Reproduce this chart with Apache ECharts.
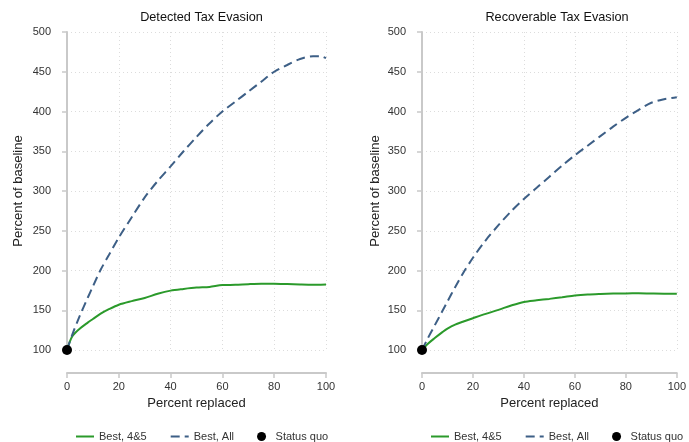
<!DOCTYPE html>
<html>
<head>
<meta charset="utf-8">
<title>Tax evasion</title>
<script src="https://cdn.jsdelivr.net/npm/echarts@6.0.0/dist/echarts.min.js"></script>
<style>
  html, body { margin: 0; padding: 0; background: #fff; }
  #main { width: 689px; height: 442px; }
</style>
</head>
<body>
<div id="main"></div>
<script>
// percent replaced (x values shared by all curves)
var replaced = [0, 2, 5, 8, 10, 13, 16, 20, 25, 30, 35, 40, 45, 50, 55, 60, 65, 70, 75, 80, 85, 90, 95, 98, 100];

// Detected Tax Evasion
var detBest45 = [100, 117, 127, 134.5, 139, 145.7, 151, 157, 161.5, 165.4, 170.7, 174.7, 176.8, 178.5, 179.3, 181.7, 182, 182.8, 183.3, 183.2, 183, 182.5, 182.2, 182.2, 182.3];
var detBestAll = [100, 119, 143.5, 165.7, 180, 201, 218.4, 241.4, 267, 292, 312.5, 331, 350, 368, 385, 400, 412.5, 425, 437.5, 450, 458.5, 466, 469.5, 469.5, 467];

// Recoverable Tax Evasion
var recBest45 = [100, 107, 115, 122.5, 127, 132, 135.5, 140, 145.5, 150.5, 156, 160.5, 162.5, 164.3, 166.3, 168.5, 169.8, 170.5, 171, 171.2, 171.3, 171, 170.8, 170.8, 170.8];
var recBestAll = [100, 113, 131, 149, 161, 179, 196, 216, 238, 257, 274.5, 290, 304, 318, 332, 345, 357, 369, 381, 392, 402, 411, 415.5, 417, 418];

var statusQuo = [[0, 100]];

var titles = ['Detected Tax Evasion', 'Recoverable Tax Evasion'];
var names = ['Best, 4&5', 'Best, All', 'Status quo'];

var font = 'Liberation Sans, Arial, sans-serif';
var green = '#2b9a2b';
var navy = '#3d5f86';
var axisGray = '#c9c9c9';

function pairs(xs, ys) {
	var out = [];
	for (var i = 0; i < xs.length; i++) {
		out.push([xs[i], ys[i]]);
	}
	return out;
}

function xAx(idx) {
	return {
		type : 'value',
		gridIndex : idx,
		min : 0,
		max : 100,
		interval : 20,
		offset : 23,
		name : 'Percent replaced',
		nameLocation : 'middle',
		nameGap : 23,
		nameTextStyle : { fontSize : 13, color : '#222', fontFamily : font },
		axisLine : { show : true, lineStyle : { color : axisGray, width : 2 } },
		axisTick : { show : true, length : 5, lineStyle : { color : axisGray, width : 1.5 } },
		axisLabel : { margin : 8, fontSize : 11, color : '#333', fontFamily : font },
		splitLine : { show : true, lineStyle : { color : '#dcdcdc', type : [1, 3], width : 1 } }
	};
}

function yAx(idx, gap) {
	return {
		type : 'value',
		gridIndex : idx,
		min : 100,
		max : 500,
		interval : 50,
		offset : 8,
		name : 'Percent of baseline',
		nameLocation : 'middle',
		nameGap : gap,
		nameTextStyle : { fontSize : 13, color : '#222', fontFamily : font },
		axisLine : { show : true, lineStyle : { color : axisGray, width : 2 } },
		axisTick : { show : true, length : 5, lineStyle : { color : axisGray, width : 1.5 } },
		axisLabel : { margin : 8, fontSize : 11, color : '#333', fontFamily : font },
		splitLine : { show : true, lineStyle : { color : '#dcdcdc', type : [1, 3], width : 1 } }
	};
}

function seriesFor(idx, best45, bestAll) {
	return [
		{
			name : names[0],
			type : 'line',
			xAxisIndex : idx,
			yAxisIndex : idx,
			data : pairs(replaced, best45),
			symbol : 'none',
			smooth : 0.3,
			lineStyle : { color : green, width : 2 },
			itemStyle : { color : green }
		},
		{
			name : names[1],
			type : 'line',
			xAxisIndex : idx,
			yAxisIndex : idx,
			data : pairs(replaced, bestAll),
			symbol : 'none',
			smooth : 0.3,
			lineStyle : { color : navy, width : 2, type : [9, 5] },
			itemStyle : { color : navy }
		},
		{
			name : names[2],
			type : 'scatter',
			xAxisIndex : idx,
			yAxisIndex : idx,
			data : statusQuo,
			symbolSize : 10,
			z : 5,
			itemStyle : { color : '#000', opacity : 1 }
		}
	];
}

function legendAt(left) {
	return {
		left : left,
		top : 426,
		itemWidth : 18,
		itemHeight : 9,
		itemGap : 23,
		textStyle : { fontSize : 11, color : '#333', fontFamily : font },
		data : [
			{ name : names[0], itemStyle : { opacity : 0 } },
			{ name : names[1], itemStyle : { opacity : 0 } },
			{ name : names[2], icon : 'circle', itemStyle : { color : '#000', opacity : 1 } }
		]
	};
}

var chart = echarts.init(document.getElementById('main'));
var option = {
	animation : false,
	backgroundColor : '#fff',
	title : [
		{ text : titles[0], left : 196.5, top : 6, textAlign : 'center',
		  textStyle : { fontSize : 12.7, fontWeight : 'normal', color : '#111', fontFamily : font } },
		{ text : titles[1], left : 552, top : 6, textAlign : 'center',
		  textStyle : { fontSize : 12.7, fontWeight : 'normal', color : '#111', fontFamily : font } }
	],
	legend : [legendAt(70), legendAt(425)],
	grid : [
		{ left : 67, top : 32, width : 259, height : 318 },
		{ left : 422, top : 32, width : 260, height : 318 }
	],
	xAxis : [xAx(0), xAx(1)],
	yAxis : [yAx(0, 34), yAx(1, 32)],
	series : seriesFor(0, detBest45, detBestAll).concat(seriesFor(1, recBest45, recBestAll))
};
chart.setOption(option);
window.onresize = chart.resize;
</script>
</body>
</html>
